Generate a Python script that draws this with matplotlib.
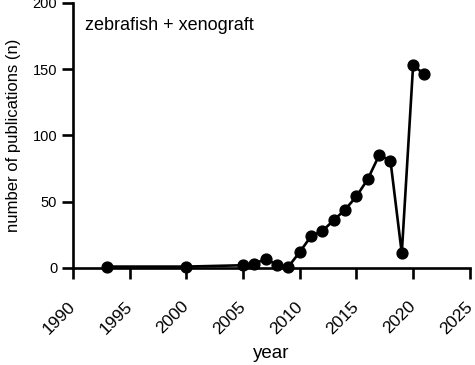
import matplotlib
matplotlib.use("Agg")
import matplotlib.pyplot as plt

# publications per year (zebrafish + xenograft)
years = [1993, 2000, 2005, 2006, 2007, 2008, 2009, 2010, 2011, 2012,
         2013, 2014, 2015, 2016, 2017, 2018, 2019, 2020, 2021]
counts = [1, 1, 2, 3, 7, 2, 1, 12, 24, 28,
          36, 44, 54, 67, 85, 81, 11, 153, 146]

x_ticks = [1990, 1995, 2000, 2005, 2010, 2015, 2020, 2025]
y_ticks = [0, 50, 100, 150, 200]

plt.rcParams['font.family'] = ['Liberation Sans', 'DejaVu Sans']

fig = plt.figure(figsize=(4.75, 3.65), dpi=100)
ax = fig.add_axes([0.154, 0.266, 0.835, 0.726])

ax.plot(years, counts, color='black', linewidth=1.9, marker='o',
        markersize=7.8, clip_on=False, zorder=3)

ax.set_xlim(1990, 2025)
ax.set_ylim(0, 200)
ax.set_xticks(x_ticks)
ax.set_yticks(y_ticks)
ax.set_xticklabels([str(t) for t in x_ticks], rotation=45, ha='right',
                   va='center', rotation_mode='anchor', fontsize=12.5)
ax.tick_params(axis='y', labelsize=10.5)
ax.tick_params(axis='x', pad=18)
ax.tick_params(direction='out', length=8, width=1.9, color='black')

for side in ['top', 'right']:
    ax.spines[side].set_visible(False)
for side in ['left', 'bottom']:
    ax.spines[side].set_linewidth(1.9)

ax.set_xlabel("year", fontsize=13.5, labelpad=6)
ax.set_ylabel("number of publications (n)", fontsize=12, labelpad=8)
ax.text(0.03, 0.913, "zebrafish + xenograft", transform=ax.transAxes,
        fontsize=13, va='center', ha='left')

fig.savefig("out.png", dpi=100)
